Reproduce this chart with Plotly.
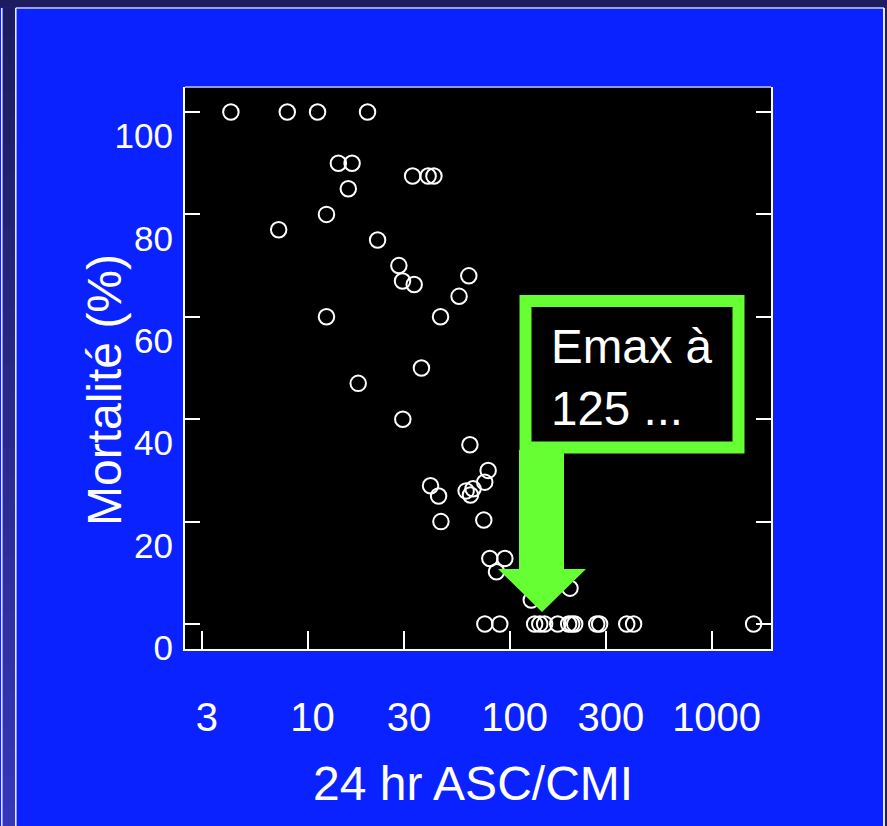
import plotly.graph_objects as go

# 24 h AUC/MIC ratio versus mortality (%)
auc_mic = [4.17, 7.93, 11.2, 19.8, 14.2, 16.6, 15.9, 33.1, 39.5, 42.2,
           12.4, 7.19, 22.2, 28.3, 29.5, 33.7, 62.8, 56.2, 12.4, 45.5,
           17.8, 36.6, 29.6, 63.6, 40.6, 44.5, 45.7, 60.9, 64.0, 65.9,
           78.3, 75.3, 74.5, 79.8, 94.7, 86.1, 128, 199,
           75.4, 89.4, 133, 141, 149, 173, 196, 203, 210, 270, 279, 380, 411, 1614]
mortality = [100, 100, 100, 100, 90, 90, 85, 87.5, 87.5, 87.5,
             80, 77, 75, 70, 67, 66.3, 68, 64, 60, 60,
             47, 50, 40, 35, 27, 25, 20, 26, 25.2, 26.4,
             30, 27.7, 20.3, 12.8, 12.8, 10.2, 4.7, 7,
             0, 0, 0, 0, 0, 0, 0, 0, 0, 0, 0, 0, 0, 0]

x_ticks = [3, 10, 30, 100, 300, 1000]
x_tick_text = ["3", "10", "30", "100", "300", "1000"]
y_ticks = [0, 20, 40, 60, 80, 100]
y_tick_text = ["0", "20", "40", "60", "80", "100"]

W, H = 887, 826
ML, MR, MT, MB = 185, 116, 87, 177
PW, PH = W - ML - MR, H - MT - MB

NAVY = "#1c1c5e"
BLUE = "#0a22ff"
GREEN = "#66ff33"
FONT = "Liberation Sans, Arial, sans-serif"


def px(x):
    return (x - ML) / PW


def py(y):
    return (H - MB - y) / PH


def rect(x0, x1, y0, y1, fill, layer="below"):
    return dict(type="rect", xref="paper", yref="paper", layer=layer,
                x0=px(x0), x1=px(x1), y0=py(y0), y1=py(y1),
                fillcolor=fill, line=dict(width=0))


def seg(x0, y0, x1, y1, color, width, layer="below"):
    return dict(type="line", xref="paper", yref="paper", layer=layer,
                x0=px(x0), x1=px(x1), y0=py(y0), y1=py(y1),
                line=dict(color=color, width=width))


fig = go.Figure()
fig.add_trace(go.Scatter(
    x=auc_mic, y=mortality, mode="markers",
    marker=dict(symbol="circle-open", size=15.5, color="white",
                line=dict(width=2, color="white")),
    cliponaxis=False, hoverinfo="x+y", showlegend=False,
))

shapes = []
# slide frame: navy band on top, gradient strip on the left, navy edge on the right
shapes.append(rect(-20, 900, -20, 7.5, NAVY))
n_steps = 30
top_rgb, bot_rgb = (28, 28, 94), (54, 54, 184)
y_start, y_end = 7.5, 830
for i in range(n_steps):
    t = i / (n_steps - 1)
    c = tuple(round(a + (b - a) * t) for a, b in zip(top_rgb, bot_rgb))
    ya = y_start + (y_end - y_start) * i / n_steps
    yb = y_start + (y_end - y_start) * (i + 1) / n_steps + 0.5
    shapes.append(rect(2.5, 15.5, ya, yb, "rgb(%d,%d,%d)" % c))
shapes.append(rect(885, 900, -20, 830, NAVY))
shapes.append(rect(-20, 1.2, -20, 7.5, NAVY))
# white panel edges
shapes.append(seg(15.8, 8, 884, 8, "#c8ccff", 1.6))
shapes.append(seg(15.8, 8, 15.8, 830, "#e6e8ff", 1.6))
shapes.append(seg(884, 8, 884, 830, "white", 1.8))
shapes.append(seg(1.8, 8, 1.8, 830, "white", 1.4))
# top edge of the plot frame
shapes.append(seg(ML, MT, W - MR, MT, "#8f98ff", 2, layer="above"))
# callout box with arrow pointing at the Emax region
shapes.append(dict(type="path", xref="paper", yref="paper", layer="above",
                   path="M %f,%f L %f,%f L %f,%f L %f,%f L %f,%f L %f,%f L %f,%f Z" % (
                       px(519), py(450), px(564), py(450), px(564), py(569),
                       px(586), py(569), px(542), py(612), px(498), py(569),
                       px(519), py(569)),
                   fillcolor=GREEN, line=dict(width=0)))
shapes.append(dict(type="rect", xref="paper", yref="paper", layer="above",
                   x0=px(525.5), x1=px(738.5), y0=py(301), y1=py(447.5),
                   fillcolor="black", line=dict(color=GREEN, width=12)))

annotations = [
    dict(text="Emax à<br>125 ...", xref="paper", yref="paper",
         x=px(549), y=py(377), xanchor="left", yanchor="middle",
         align="left", showarrow=False,
         font=dict(family=FONT, size=47.5, color="white")),
    dict(text="Mortalité (%)", xref="paper", yref="paper",
         x=px(104), y=py(390), xanchor="center", yanchor="middle",
         textangle=-90, showarrow=False,
         font=dict(family=FONT, size=48, color="white")),
    dict(text="24 hr ASC/CMI", xref="paper", yref="paper",
         x=px(473), y=py(783), xanchor="center", yanchor="middle",
         showarrow=False,
         font=dict(family=FONT, size=48, color="white")),
]

fig.update_layout(
    width=W, height=H,
    margin=dict(l=ML, r=MR, t=MT, b=MB, pad=0),
    paper_bgcolor=BLUE, plot_bgcolor="black",
    shapes=shapes, annotations=annotations,
    xaxis=dict(type="log", range=[0.393, 3.294],
               tickvals=x_ticks, ticktext=x_tick_text,
               ticks="inside", ticklen=18, tickwidth=2, tickcolor="white",
               showline=True, linecolor="white", linewidth=2, mirror=False,
               showgrid=False, zeroline=False,
               ticklabelstandoff=32, ticklabelshift=5,
               tickfont=dict(family=FONT, size=40, color="white")),
    yaxis=dict(range=[-4.88, 104.88],
               tickvals=y_ticks, ticktext=y_tick_text,
               ticks="inside", ticklen=15, tickwidth=2, tickcolor="white",
               showline=True, linecolor="white", linewidth=2, mirror="ticks",
               showgrid=False, zeroline=False,
               ticklabelshift=24, ticklabelstandoff=3,
               tickfont=dict(family=FONT, size=35, color="white")),
)

fig.write_html("out.html")
